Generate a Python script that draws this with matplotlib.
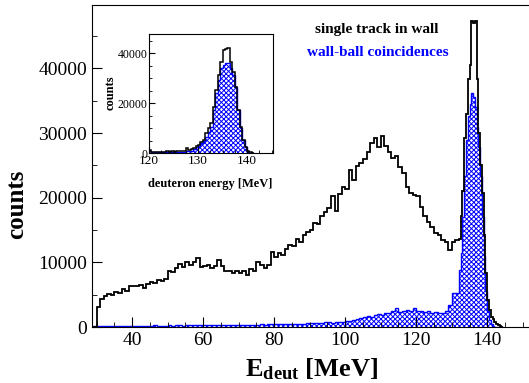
import matplotlib
matplotlib.use("Agg")
import matplotlib.pyplot as plt
from matplotlib.ticker import MultipleLocator

plt.rcParams["font.family"] = ["Liberation Serif", "DejaVu Serif"]
plt.rcParams["mathtext.fontset"] = "custom"
plt.rcParams["mathtext.bf"] = "Liberation Serif:bold"
plt.rcParams["mathtext.rm"] = "Liberation Serif"
plt.rcParams["hatch.linewidth"] = 0.7

# main spectrum: 1 MeV bins 29..132, then 0.5 MeV bins 132..144.5
edges_main = list(range(29, 133)) + [132.5 + 0.5 * i for i in range(25)]

single_track = [
    0, 3100, 4300, 4800, 5100, 4900, 5400, 5300, 5900, 5600,          # 29-38
    6300, 6400, 6300, 6500, 6100, 6600, 6900, 6800, 7300, 7100,       # 39-48
    7500, 8600, 8500, 9200, 9700, 9300, 10000, 9600, 10100, 10600,    # 49-58
    9300, 9500, 9600, 9200, 9500, 10400, 9400, 8700, 8600, 8400,      # 59-68
    8700, 8300, 8600, 8100, 8900, 8600, 10000, 9600, 9200, 9600,      # 69-78
    11600, 10900, 11400, 11200, 12000, 12700, 12500, 13600, 13200, 14300,  # 79-88
    14700, 15000, 16100, 16000, 17100, 17800, 18400, 20200, 17900, 20600,  # 89-98
    21700, 21300, 24300, 22800, 24900, 25400, 26000, 27000, 28500, 29300,  # 99-108
    27800, 29500, 28000, 27000, 26200, 26500, 24800, 23800, 21700, 20700,  # 109-118
    20400, 20200, 18600, 17100, 16300, 15500, 14500, 14200, 13500, 13200,  # 119-128
    11900, 13200, 13500,                                                   # 129-131
    13600, 17100, 21000, 29300, 32900, 38300, 40500, 47300, 47000, 47300,  # 132.0-136.5
    38300, 30000, 25000, 20700, 14300, 8400, 4200, 2600, 1600, 1200,       # 137.0-141.5
    800, 500, 300, 100, 0,                                                 # 142.0-144.0
]

coincidences = [
    150, 150, 150, 150, 150, 150, 200, 150, 150, 150,
    200, 200, 150, 200, 200, 200, 200, 250, 200, 200,
    200, 250, 200, 250, 250, 200, 250, 250, 300, 250,
    300, 300, 250, 300, 300, 300, 300, 350, 300, 300,
    300, 350, 300, 350, 300, 350, 350, 400, 350, 400,
    400, 400, 400, 450, 400, 450, 450, 500, 450, 500,
    600, 550, 600, 650, 600, 700, 700, 650, 750, 700,
    800, 900, 1000, 1100, 1300, 1400, 1500, 1700, 1600, 1900,
    2000, 1900, 2200, 2100, 2400, 2900, 2300, 2500, 2600, 2400,
    3000, 2500, 2400, 2300, 2400, 2200, 2300, 2200, 2200, 2400,
    3400, 5200, 5200,
    8800, 11500, 17000, 23300, 29000, 32600, 34500, 36200, 35500, 34100,
    31000, 27900, 23300, 17000, 11000, 5500, 2500, 1100, 400, 200,
    0, 0, 0, 0, 0,
]

# inset: 0.5 MeV bins 120..141.5
edges_inset = [120 + 0.5 * i for i in range(44)]

inset_single = [
    1200, 600, 500, 500, 400, 600, 500, 700, 400, 800,
    600, 900, 700, 1000, 900, 2000, 1400, 1600, 2200, 2700,
    3300, 4500, 5300, 7900, 10000, 11900, 18500, 25200, 31200, 36500,
    41200, 41500, 41900, 36500, 32500, 26500, 17200, 10500, 5200, 2500,
    800, 300, 100,
]

inset_coinc = [
    800, 300, 400, 300, 400, 300, 500, 400, 400, 500,
    400, 500, 500, 600, 500, 700, 800, 1000, 1500, 2500,
    3000, 3900, 5000, 6500, 8500, 10500, 17200, 23900, 29200, 33900,
    35200, 35900, 35900, 33900, 31200, 26500, 17200, 9900, 5200, 2500,
    600, 200, 0,
]

fig = plt.figure(figsize=(5.29, 3.83), dpi=100)
ax = fig.add_axes([0.174, 0.1462, 0.831, 0.8407])

ax.stairs(coincidences, edges_main, fill=True, facecolor="white",
          edgecolor="blue", hatch="xxxxxxx", linewidth=1.0)
ax.stairs(single_track, edges_main, color="black", linewidth=1.3)

ax.set_xlim(28.7, 152.5)
ax.set_ylim(0, 49800)
ax.xaxis.set_major_locator(MultipleLocator(20))
ax.xaxis.set_minor_locator(MultipleLocator(5))
ax.yaxis.set_major_locator(MultipleLocator(10000))
ax.yaxis.set_minor_locator(MultipleLocator(5000))
ax.tick_params(which="both", direction="in", top=False, right=False, labelsize=14)
ax.tick_params(which="major", length=7)
ax.tick_params(which="minor", length=3.5)
ax.spines["right"].set_visible(False)

ax.set_ylabel("counts", fontsize=18, fontweight="bold")
ax.yaxis.set_label_coords(-0.145, 0.38)
ax.set_xlabel(r"$\mathbf{E_{deut}}$ [MeV]", fontsize=19, fontweight="bold")
ax.xaxis.set_label_coords(0.5, -0.09)

ax.text(0.647, 0.925, "single track in wall", transform=ax.transAxes,
        ha="center", va="center", fontsize=11, fontweight="bold", color="black")
ax.text(0.649, 0.854, "wall-ball coincidences", transform=ax.transAxes,
        ha="center", va="center", fontsize=11, fontweight="bold", color="blue")

# inset
ins = fig.add_axes([0.2817, 0.6005, 0.2344, 0.3107])
ins.stairs(inset_coinc, edges_inset, fill=True, facecolor="white",
           edgecolor="blue", hatch="xxxxxxx", linewidth=1.0)
ins.stairs(inset_single, edges_inset, color="black", linewidth=1.1)
ins.set_xlim(120, 145.3)
ins.set_ylim(0, 47600)
ins.xaxis.set_major_locator(MultipleLocator(10))
ins.xaxis.set_minor_locator(MultipleLocator(2.5))
ins.yaxis.set_major_locator(MultipleLocator(20000))
ins.yaxis.set_minor_locator(MultipleLocator(5000))
ins.tick_params(which="both", direction="in", top=False, right=False)
ins.tick_params(which="major", length=4)
ins.tick_params(which="minor", length=2)
ins.tick_params(axis="x", labelsize=9.5, pad=1.5)
ins.tick_params(axis="y", labelsize=8.5, pad=1)
ins.set_ylabel("counts", fontsize=9, fontweight="bold")
ins.yaxis.set_label_coords(-0.26, 0.51)
ins.set_xlabel("deuteron energy [MeV]", fontsize=9, fontweight="bold")
ins.xaxis.set_label_coords(0.49, -0.21)

fig.savefig("out.png", dpi=100)
